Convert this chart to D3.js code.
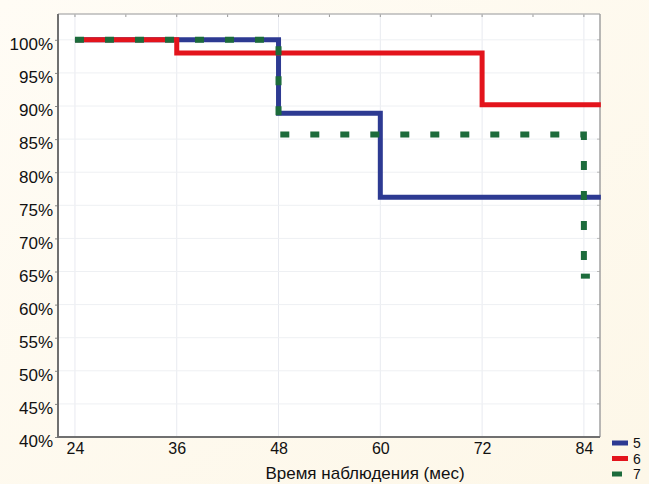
<!DOCTYPE html>
<html><head><meta charset="utf-8">
<script src="https://cdn.jsdelivr.net/npm/d3@7"></script>
<style>body{margin:0;background:#fdf9ee;}svg{display:block;font-family:"Liberation Sans",Arial,sans-serif;}</style>
</head><body>
<script>
const xTicks = [24, 36, 48, 60, 72, 84];
const yTicks = [40, 45, 50, 55, 60, 65, 70, 75, 80, 85, 90, 95, 100];
const seriesNames = ["5", "6", "7"];
const seriesColors = ["#2d3a92", "#e3141c", "#1c6b3b"];
// step points: [month, percent]
const s5 = [[24, 100], [48, 100], [48, 88.9], [60, 88.9], [60, 76.2], [86, 76.2]];
const s6 = [[24, 100], [36, 100], [36, 98.0], [72, 98.0], [72, 90.2], [86, 90.2]];
const s7 = [[24, 100], [48, 100], [48, 85.7], [84, 85.7], [84, 64.3]];
const xTitle = "Время наблюдения (мес)";

const W = 649, H = 484;
const m = {l: 58, r: 600, t: 14, b: 437};
const svg = d3.select("body").append("svg").attr("width", W).attr("height", H);
const defs = svg.append("defs");
const gr = defs.append("linearGradient").attr("id","bg").attr("x1",0).attr("y1",0).attr("x2",1).attr("y2",1);
gr.append("stop").attr("offset","0").attr("stop-color","#fffcf5");
gr.append("stop").attr("offset","1").attr("stop-color","#fdf7e8");
svg.append("rect").attr("width",W).attr("height",H).attr("fill","url(#bg)");

const x = d3.scaleLinear().domain([22, 85.9]).range([m.l, m.r]);
const y = d3.scaleLinear().domain([40, 103.9]).range([m.b, m.t]);

svg.append("rect").attr("x", m.l).attr("y", m.t).attr("width", m.r - m.l).attr("height", m.b - m.t).attr("fill", "#ffffff");

// grid
const g = svg.append("g");
g.selectAll("line.v").data(xTicks).join("line")
  .attr("x1", d => x(d)).attr("x2", d => x(d)).attr("y1", m.t).attr("y2", m.b)
  .attr("stroke", "#e8eaf0").attr("stroke-width", 1);
g.selectAll("line.h").data(yTicks).join("line")
  .attr("y1", d => y(d)).attr("y2", d => y(d)).attr("x1", m.l).attr("x2", m.r)
  .attr("stroke", "#eef0f3").attr("stroke-width", 1);

// top minor ticks
const topTicks = d3.range(24, 85, 6);
g.selectAll("line.tt").data(topTicks).join("line")
  .attr("x1", d => x(d)).attr("x2", d => x(d)).attr("y1", m.t).attr("y2", m.t + 3)
  .attr("stroke", "#999").attr("stroke-width", 1);
// right minor ticks
g.selectAll("line.rt").data(yTicks).join("line")
  .attr("y1", d => y(d)).attr("y2", d => y(d)).attr("x1", m.r - 3).attr("x2", m.r)
  .attr("stroke", "#bbb").attr("stroke-width", 1);

// frame
svg.append("line").attr("x1", m.l).attr("x2", m.r).attr("y1", m.t).attr("y2", m.t).attr("stroke", "#b8b8b8").attr("stroke-width", 1.5);
svg.append("line").attr("x1", m.r).attr("x2", m.r).attr("y1", m.t).attr("y2", m.b).attr("stroke", "#a0a0a0").attr("stroke-width", 1.5);

// axes labels
const yAxis = d3.axisLeft(y).tickValues(yTicks).tickFormat(d => d + "%").tickSize(3).tickPadding(2);
const ya = svg.append("g").attr("transform", `translate(${m.l},0)`).call(yAxis);
ya.select(".domain").remove();
ya.selectAll("line").attr("stroke", "#888");
ya.selectAll("text").attr("font-size", 17).attr("fill", "#111").attr("dy", "0.58em");

const xAxis = d3.axisBottom(x).tickValues(xTicks).tickSize(0).tickPadding(6);
const xa = svg.append("g").attr("transform", `translate(0,${m.b})`).call(xAxis);
xa.select(".domain").remove();
xa.selectAll("text").attr("font-size", 16).attr("fill", "#111");

svg.append("line").attr("x1", m.l).attr("x2", m.l).attr("y1", m.t).attr("y2", m.b + 1).attr("stroke", "#707070").attr("stroke-width", 2);
svg.append("line").attr("x1", m.l - 1).attr("x2", m.r).attr("y1", m.b).attr("y2", m.b).attr("stroke", "#707070").attr("stroke-width", 2);

svg.append("text").attr("x", 365).attr("y", 479).attr("text-anchor", "middle")
  .attr("font-size", 17).attr("fill", "#111").text(xTitle);

// series (blue bottom, red, green dotted on top)
const line = d3.line().x(d => x(d[0])).y(d => y(d[1]));
[[s5, 0], [s6, 1], [s7, 2]].forEach(([s, idx]) => {
  const p = svg.append("path").attr("d", line(s)).attr("fill", "none")
    .attr("stroke", seriesColors[idx]).attr("stroke-width", 5);
  if (idx === 2) {
    p.attr("stroke-dasharray", "9,21").attr("stroke-width", 6);
    // censored end mark
    const e = s[s.length - 1];
    svg.append("line").attr("x1", x(e[0]) - 3).attr("x2", x(e[0]) + 6)
      .attr("y1", y(e[1])).attr("y2", y(e[1]))
      .attr("stroke", seriesColors[idx]).attr("stroke-width", 5);
  } else p.attr("stroke-linejoin", "miter");
});

// legend
const lg = svg.append("g");
seriesNames.forEach((n, i) => {
  const yy = 443 + i * 15.5;
  lg.append("line").attr("x1", 612).attr("x2", i === 2 ? 622 : 628).attr("y1", yy).attr("y2", yy)
    .attr("stroke", seriesColors[i]).attr("stroke-width", 5);
  lg.append("text").attr("x", 633).attr("y", yy + 5).attr("font-size", 14).attr("fill", "#111").text(n);
});
</script>
</body></html>
